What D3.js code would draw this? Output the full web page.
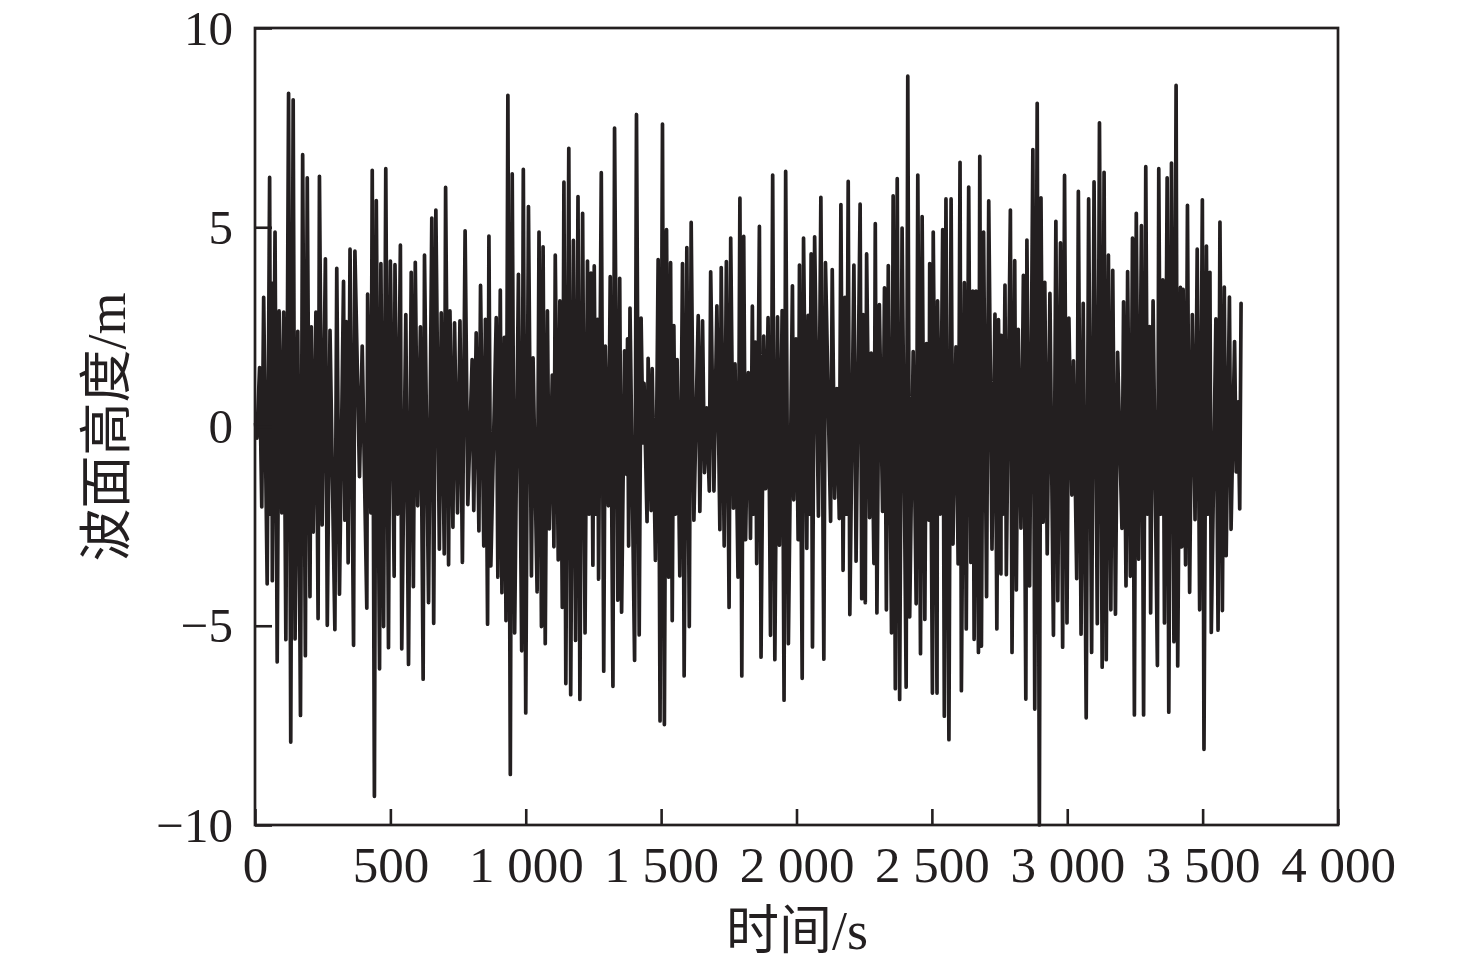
<!DOCTYPE html>
<html><head><meta charset="utf-8">
<script src="https://cdn.jsdelivr.net/npm/d3@7"></script>
<style>html,body{margin:0;background:#fff}svg{display:block}</style></head>
<body><div id="c"></div>
<script>
const xTicks=[0,500,1000,1500,2000,2500,3000,3500,4000];
const xTickLabels=["0","500","1 000","1 500","2 000","2 500","3 000","3 500","4 000"];
const yTicks=[-10,-5,0,5,10];
const yTickLabels=["\u221210","\u22125","0","5","10"];
const crestsA=[[2,0.07],[17,1.48],[32,3.24],[54,6.25],[62,3.6],[74,4.88],[89,2.9],[106,2.87],[124,8.36],[141,8.2],[158,2.39],[176,6.82],[193,6.24],[208,2.5],[225,2.87],[238,6.28],[260,4.21],[277,2.41],[302,3.97],[327,3.64],[337,2.63],[351,4.45],[369,4.4],[396,2.02],[416,3.32],[433,6.43],[448,5.67],[465,4.09],[483,6.47],[500,4.15],[517,4.06],[537,4.55],[557,2.81],[577,3.87],[592,4.12],[611,2.5],[626,4.3],[653,5.23],[668,5.43],[688,2.85],[704,6.0],[720,2.9],[737,2.6],[757,2.65],[776,4.91],[802,1.68],[817,2.35],[833,3.54],[851,2.69],[864,4.78],[891,2.73],[906,3.42],[921,2.24],[934,8.31],[950,6.34],[973,3.82],[991,6.45],[1010,5.52],[1027,1.72],[1049,4.88],[1064,4.51],[1080,2.9],[1098,1.29],[1109,4.3],[1126,3.15],[1141,6.13],[1159,6.98],[1176,4.67],[1193,5.77],[1210,5.35],[1228,4.15]];
const troughsA=[[7,-0.29],[25,-2.02],[45,-3.95],[64,-3.87],[82,-5.91],[99,-2.17],[114,-5.35],[132,-7.92],[148,-5.33],[168,-7.25],[186,-5.75],[203,-4.27],[215,-2.65],[233,-4.82],[248,-2.47],[267,-4.99],[295,-5.1],[312,-4.21],[332,-2.35],[344,-3.42],[364,-5.49],[386,-1.26],[413,-4.56],[428,-2.17],[441,-9.28],[460,-6.08],[475,-5.02],[493,-5.55],[514,-3.76],[542,-5.58],[567,-5.97],[585,-4.02],[601,-1.99],[621,-6.34],[641,-4.42],[660,-4.94],[681,-3.08],[699,-3.2],[715,-3.47],[731,-2.53],[748,-2.17],[766,-3.41],[786,-1.96],[808,-2.11],[827,-2.62],[845,-3.0],[859,-4.96],[871,-3.5],[897,-3.78],[912,-4.17],[927,-4.87],[943,-8.73],[959,-5.18],[985,-5.63],[1000,-7.19],[1021,-3.75],[1042,-4.15],[1058,-5.02],[1072,-5.45],[1087,-2.57],[1104,-3.02],[1120,-3.35],[1135,-4.54],[1148,-6.45],[1166,-6.73],[1184,-5.37],[1200,-6.85],[1219,-5.18]];
const crestsB=[[1241,3.85],[1253,4.03],[1265,2.69],[1279,6.37],[1294,2.02],[1312,3.76],[1328,7.49],[1347,3.72],[1365,1.9],[1385,2.97],[1409,7.83],[1426,2.72],[1437,1.08],[1452,1.71],[1467,1.45],[1489,4.19],[1505,7.59],[1520,4.94],[1535,4.11],[1547,2.53],[1559,1.68],[1579,4.09],[1595,4.49],[1611,5.12],[1637,2.78],[1653,2.65],[1668,0.47],[1683,3.88],[1706,3.03],[1722,3.99],[1741,4.14],[1757,4.73],[1773,1.57],[1791,5.73],[1805,4.77],[1822,1.35],[1837,3.02],[1848,2.12],[1863,5.02],[1879,2.27],[1895,2.73],[1912,6.31],[1930,2.75],[1947,2.91],[1960,6.4],[1985,3.53],[2011,4.05],[2026,4.73],[2043,2.79],[2054,4.33],[2067,4.76],[2090,5.75],[2107,4.11],[2132,3.94],[2149,0.95],[2164,5.57],[2179,3.24],[2191,6.15],[2212,4.05],[2235,5.58],[2246,2.81],[2259,4.33],[2276,1.84],[2291,5.09],[2306,3.06],[2325,3.48],[2339,4.04],[2357,5.79],[2372,6.22],[2390,4.98],[2411,8.79],[2431,1.88],[2448,6.31],[2464,5.27],[2480,2.08],[2492,4.09]];
const troughsB=[[1248,-3.48],[1269,-3.83],[1288,-6.14],[1305,-1.99],[1322,-6.52],[1340,-4.36],[1354,-4.66],[1372,-1.2],[1380,-3.0],[1402,-5.87],[1419,-5.23],[1433,-0.41],[1448,-2.39],[1463,-2.11],[1479,-3.36],[1496,-7.39],[1512,-7.48],[1528,-3.78],[1541,-4.87],[1569,-3.75],[1585,-6.26],[1604,-5.02],[1621,-2.35],[1643,-2.13],[1660,-1.16],[1678,-1.62],[1695,-1.62],[1717,-2.59],[1733,-3.0],[1751,-4.54],[1767,-2.05],[1784,-3.78],[1798,-6.26],[1812,-2.84],[1830,-2.81],[1853,-3.44],[1869,-5.79],[1886,-1.56],[1904,-5.24],[1920,-5.85],[1937,-2.98],[1954,-6.87],[1970,-5.45],[1990,-1.84],[2006,-2.84],[2021,-6.32],[2038,-3.06],[2059,-5.53],[2081,-2.25],[2101,-5.84],[2126,-2.38],[2141,-1.8],[2158,-2.31],[2172,-3.61],[2197,-4.72],[2220,-3.38],[2241,-4.32],[2254,-4.42],[2270,-2.29],[2286,-3.44],[2297,-4.68],[2318,-2.13],[2332,-4.6],[2351,-5.18],[2365,-6.58],[2381,-6.85],[2405,-6.54],[2418,-4.78],[2442,-4.45],[2458,-5.7],[2474,-4.84],[2489,-2.35]];
const crestsC=[[2505,4.88],[2521,3.15],[2540,4.94],[2552,5.71],[2571,5.71],[2589,2.0],[2604,6.63],[2620,3.61],[2636,6.01],[2651,3.4],[2663,3.4],[2677,6.78],[2691,4.88],[2710,5.66],[2733,2.82],[2746,2.68],[2756,2.29],[2770,3.55],[2790,5.43],[2806,4.16],[2819,2.44],[2838,3.79],[2851,4.68],[2873,6.95],[2889,8.11],[2903,5.74],[2917,3.62],[2936,3.34],[2958,5.15],[2975,4.61],[2990,6.3],[3006,2.72],[3023,1.65],[3041,5.9],[3059,3.09],[3079,5.71],[3099,6.14],[3119,7.62],[3136,6.38],[3152,4.3],[3168,3.92],[3186,1.86],[3208,3.13],[3223,3.89],[3241,4.73],[3255,5.35],[3274,5.04],[3290,6.52],[3304,2.51],[3317,3.15],[3338,6.47],[3353,3.68],[3369,6.24],[3385,6.61],[3402,8.56],[3418,3.49],[3428,3.44],[3444,5.55],[3462,2.81],[3480,4.45],[3499,5.69],[3514,4.53],[3527,3.87],[3549,2.7],[3564,5.13],[3580,3.5],[3599,3.25],[3618,2.13],[3631,0.62],[3642,3.09]];
const troughsC=[[2502,-6.69],[2519,-6.69],[2546,-7.27],[2563,-7.86],[2578,-2.95],[2597,-3.45],[2609,-6.63],[2627,-5.08],[2644,-3.41],[2656,-5.34],[2672,-5.67],[2683,-5.51],[2702,-4.27],[2722,-3.08],[2740,-5.08],[2755,-3.7],[2775,-3.72],[2796,-5.67],[2812,-4.1],[2829,-2.55],[2847,-6.84],[2861,-4.0],[2880,-7.09],[2897,-10],[2911,-2.4],[2926,-3.2],[2949,-5.24],[2965,-4.37],[2983,-5.54],[2999,-4.93],[3017,-1.72],[3035,-3.82],[3051,-5.21],[3070,-7.31],[3090,-5.67],[3111,-4.95],[3129,-6.04],[3144,-5.85],[3161,-4.6],[3178,-4.71],[3202,-2.56],[3217,-4.0],[3233,-3.76],[3248,-7.24],[3264,-3.33],[3282,-7.24],[3308,-4.68],[3333,-6.0],[3359,-4.93],[3375,-7.17],[3394,-5.4],[3408,-6.01],[3423,-3.02],[3437,-3.47],[3452,-4.16],[3472,-2.34],[3489,-4.6],[3505,-8.1],[3532,-5.17],[3557,-5.11],[3573,-4.62],[3587,-3.24],[3605,-2.58],[3624,-1.14],[3637,-2.07]];
const coreLevel=2.2; // half-height of the solid band that the trace crosses between two like peaks

const ink="#231f20";
const serif="'Liberation Serif','Times New Roman',serif";
const svg=d3.select("#c").append("svg").attr("width",1476).attr("height",964);
const x=d3.scaleLinear().domain([0,4000]).range([255,1338]);
const y=d3.scaleLinear().domain([-10,10]).range([825,28]);

const peaks=d3.merge([crestsA,troughsA,crestsB,troughsB,crestsC,troughsC]).sort((a,b)=>a[0]-b[0]);
const pts=[];
peaks.forEach((p,i)=>{
  const prev=peaks[i-1];
  if(prev&&prev[1]*p[1]>0) pts.push([(prev[0]+p[0])/2,p[1]>0?-coreLevel:coreLevel]);
  pts.push(p);
});
svg.append("path").attr("d",d3.line().x(d=>x(d[0])).y(d=>y(d[1]))(pts))
  .attr("fill","none").attr("stroke",ink).attr("stroke-width",3.7).attr("stroke-linejoin","round").attr("stroke-linecap","round");

const ax=svg.append("g").attr("transform","translate(0,825)")
  .call(d3.axisBottom(x).tickValues(xTicks).tickSize(-16).tickPadding(0).tickFormat((d,i)=>xTickLabels[i]));
const ay=svg.append("g").attr("transform","translate(255,0)")
  .call(d3.axisLeft(y).tickValues(yTicks).tickSize(-17).tickPadding(0).tickFormat((d,i)=>yTickLabels[i]));
[ax,ay].forEach(g=>{
  g.select(".domain").remove();
  g.selectAll("line").attr("stroke",ink).attr("stroke-width",2.6);
  g.selectAll("text").attr("fill",ink).style("font-family",serif);
});
ax.selectAll("text").attr("dy",0).attr("y",57).style("font-size","51px");
ay.selectAll("text").attr("x",-22).attr("dy",16).style("font-size","49px");
svg.append("rect").attr("x",255).attr("y",28).attr("width",1083).attr("height",797)
  .attr("fill","none").attr("stroke",ink).attr("stroke-width",2.7);

const title=(sel,cjk,lat)=>{
  sel.attr("fill",ink).attr("text-anchor","middle");
  sel.append("tspan").style("font-family","'Noto Sans CJK SC'").style("font-size","53px").text(cjk);
  sel.append("tspan").style("font-family",serif).style("font-size","54px").text(lat);
};
title(svg.append("text").attr("x",797).attr("y",949),"时间","/s");
title(svg.append("text").attr("transform","translate(125,427) rotate(-90)"),"波面高度","/m");
</script></body></html>
